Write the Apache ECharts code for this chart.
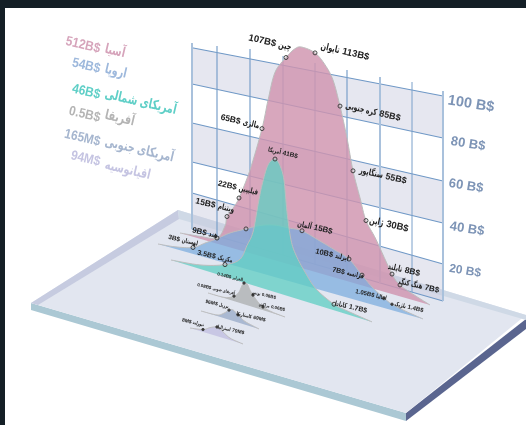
<!DOCTYPE html>
<html>
<head>
<meta charset="utf-8">
<style>html,body{margin:0;padding:0;background:#fff}#c{width:526px;height:425px}</style>
<script src="https://cdn.jsdelivr.net/npm/echarts@6/dist/echarts.min.js"></script>
</head>
<body>
<div id="c"></div>
<script>
// ---------- data ----------
const regionNames = ['آسیا','اروپا','آمریکای شمالی','آفریقا','آمریکای جنوبی','اقیانوسیه'];
const regionTotals = ['512B$','54B$','46B$','0.5B$','165M$','94M$'];
const wallTickLabels = ['20 B$','40 B$','60 B$','80 B$','100 B$'];

// ridge outlines: [position along the ridge, height in B$]
const asiaCurve = [[180,0],[200,1.2],[217,2.8],[225,10],[227,15],[233,20],[239,26],[250,41.6],[262,64],[268,79],[275,94],[286,103],[295,108.7],[302,110.5],[315,109.5],[325,105],[333,98.5],[340,86.5],[347,71.5],[353,56],[360,43.5],[366,33],[376,25],[392,10],[400,5.7],[410,3.5],[430,0]];
const europeCurve = [[158,0],[175,1],[193,3.2],[205,7.1],[217,11],[230,15.7],[246,20],[260,23.7],[275,26],[289,26.5],[302,27],[320,24.4],[335,22],[349,19.5],[362,13.3],[372,8.8],[384,5],[392,3],[405,1.5],[423,0]];
const northAmericaCurve = [[171,0],[200,2],[225,6],[240,11],[247,19],[253,26.6],[258,41],[262,51.5],[268,62.5],[275,66.5],[280,64],[284,57.4],[287,42],[291,28.5],[296,21.7],[305,14.6],[316,7.9],[334,3],[350,1.5],[372,0]];
const africaCurve = [[208,0],[225,0.4],[234,2.5],[239,5.3],[243,10],[247,10.6],[250,8],[253,6],[258,3.3],[263,1.6],[272,0.5],[285,0]];
const southAmericaCurve = [[201,0],[217,0.5],[224,2.5],[229,4.8],[233,5.5],[238,3.8],[245,1.6],[259,0]];
const oceaniaCurve = [[190,0],[203,1.2],[210,3.2],[217,4.6],[222,3.4],[230,1],[243,0]];

// labelled countries: [name, value text, position, height]
const asiaPoints = [['هند','9B$',217,2.8],['ویتنام','15B$',227,15],['فیلیپین','22B$',239,26],['مالزی','65B$',262,64],['چین','107B$',286,103],['تایوان','113B$',315,109.5],['کره جنوبی','85B$',340,86.5],['سنگاپور','55B$',353,56],['ژاپن','30B$',366,33],['تایلند','8B$',392,10],['هنگ کنگ','7B$',400,5.7]];
const europePoints = [['لهستان','3B$',193,3.2],['','',246,20],['آلمان','15B$',302,27],['ایرلند','10B$',349,19.5],['فرانسه','7B$',362,13.3],['ایتالیا','1.05B$',384,5],['بلژیک','1.4B$',392,3]];
const northAmericaPoints = [['مکزیک','3.5B$',225,6],['آمریکا','41B$',275,66.5],['کانادا','1.7B$',334,3]];
const africaPoints = [['الجزایر','0.14B$',244,10.6],['آفریقای جنوبی','0.08B$',234,2.5],['تونس','0.08B$',253,6],['مراکش','0.06B$',263,1.6]];
const southAmericaPoints = [['برزیل','96M$',229,4.8],['کاستاریکا','69M$',238,3.8]];
const oceaniaPoints = [['نیوزلند','8M$',203,1.2],['استرالیا','79M$',217,4.6]];

// ---------- layout & style ----------
const HEIGHT_PX = 2;
const ridgeStyle = [
  {curve:asiaCurve, points:asiaPoints, g:[233,0.288], fill:'rgba(207,148,174,0.82)',
   off:[[-12,-5,8],[-12,-11,8.5],[-1,-10,8],[-22,-7,8.5],[-16,-15,9.5],[30,-1,9.5],[33,6,9],[30,5,9],[23,4,9.5],[12,-4,8.5],[19,1,8]]},
  {curve:europeCurve, points:europePoints, g:[244,0.283], fill:'rgba(122,172,222,0.72)',
   off:[[-10,-7,6.5],[0,0,6.5],[13,-3,8],[-17,-4,7.5],[-14,-2,7],[-13,-3,6],[17,3,6]]},
  {curve:northAmericaCurve, points:northAmericaPoints, g:[260,0.308], fill:'rgba(96,206,194,0.76)',
   off:[[-10,-8,7],[8,-6,6.5],[17,3,7]]},
  {curve:africaCurve, points:africaPoints, g:[293,0.312], fill:'rgba(178,180,182,0.85)',
   off:[[-14,-6,4.5],[-18,-7,4.5],[11,0,4.5],[9,0,4.5]]},
  {curve:southAmericaCurve, points:southAmericaPoints, g:[311,0.31], fill:'rgba(160,176,204,0.85)',
   off:[[-12,-6,5],[13,2,5]]},
  {curve:oceaniaCurve, points:oceaniaPoints, g:[328,0.302], fill:'rgba(197,195,226,0.9)',
   off:[[-10,-7,5],[14,3,5]]}
];
const ROT = -13 * Math.PI / 180;
const FONT = '"Liberation Sans","DejaVu Sans",sans-serif';
const NAME_SCALE = 0.68;

const platform = [
  {pts:[[31,303],[406,413],[406,421],[31,310]], fill:'#abc8d4'},
  {pts:[[406,413],[526,319],[526,329],[406,421]], fill:'#5a658f'},
  {pts:[[31,303],[178,210],[526,315],[406,413]], fill:'#e2e6f0'},
  {pts:[[31,303],[178,210],[179,219],[38,305]], fill:'#c6cbe0'},
  {pts:[[178,210],[526,315],[526,320],[179,219]], fill:'#cfd9e6'}
];
// wall rows (0,20,40,60,80,100) on its left and right edge
const wallLeftY = [229,193,162,123,84,47.7];
const wallRightY = [301,264,223,181,138,96];
const wallX0 = 192, wallX1 = 443;
const wallColumns = [[192,43,2,'#a9c1dc'],[217,46,1.2,'#7ba0ca'],[250,49,1.2,'#7ba0ca'],[283,56,1,'#7ba0ca'],[315,63,1,'#7ba0ca'],[347,70,1.2,'#7ba0ca'],[380,77,2,'#a9c1dc'],[412,82,1,'#7ba0ca'],[443,91,2,'#a9c1dc']];
const wallLabelPos = [[465,271,12],[467,229,13],[466,186,13],[468,144,13],[471,104,14.5]];
const legendColors = ['#d6a4bb','#9db8dc','#5fcfc7','#b4b4b4','#a6b6cf','#c5c4e2'];
const legendPos = [[100,49,105,49],[100,69,105,69],[100,95,105,94],[100,118,105,115],[100,142,105,142],[100,162,105,165]];

// ---------- helpers ----------
const measureCtx = document.createElement('canvas').getContext('2d');
function textWidth(t, font){ measureCtx.font = font; return measureCtx.measureText(t).width; }
function smooth(pts){
  const out=[];
  for(let i=0;i<pts.length-1;i++){
    const p0=pts[Math.max(i-1,0)],p1=pts[i],p2=pts[i+1],p3=pts[Math.min(i+2,pts.length-1)];
    for(let s=0;s<8;s++){
      const t=s/8,t2=t*t,t3=t2*t;
      out.push([
        0.5*(2*p1[0]+(p2[0]-p0[0])*t+(2*p0[0]-5*p1[0]+4*p2[0]-p3[0])*t2+(3*p1[0]-p0[0]-3*p2[0]+p3[0])*t3),
        0.5*(2*p1[1]+(p2[1]-p0[1])*t+(2*p0[1]-5*p1[1]+4*p2[1]-p3[1])*t2+(3*p1[1]-p0[1]-3*p2[1]+p3[1])*t3)
      ]);
    }
  }
  out.push(pts[pts.length-1]);
  return out;
}
function ridgeProject(api, r, x, h){
  const x0 = r.curve[0][0];
  const y = r.g[0] + r.g[1]*(x-x0) - h*HEIGHT_PX;
  return api.coord([x,y]);
}
function one(render){
  return {type:'custom', coordinateSystem:'cartesian2d', data:[[0,0]], silent:true, clip:false, renderItem:render, animation:false};
}
// value and country name placed side by side along the slanted baseline, centred on (cx,cy)
function labelParts(name, value, cx, cy, size, nameFirst){
  const font='bold '+size+'px '+FONT;
  const vw=textWidth(value,font), nw=textWidth(name,font)*NAME_SCALE, gap=size*0.3;
  const total=vw+gap+nw;
  const cos=Math.cos(13*Math.PI/180), sin=Math.sin(13*Math.PI/180);
  const at=d=>[cx+(d-total/2)*cos, cy+(d-total/2)*sin];
  const nd=nameFirst?nw/2:vw+gap+nw/2, vd=nameFirst?nw+gap+vw/2:vw/2;
  const np=at(nd), vp=at(vd);
  return [
    {type:'text',x:np[0],y:np[1],rotation:ROT,scaleX:NAME_SCALE,style:{text:name,fill:'#222',font,align:'center',verticalAlign:'middle'}},
    {type:'text',x:vp[0],y:vp[1],rotation:ROT,style:{text:value,fill:'#222',font,align:'center',verticalAlign:'middle'}}
  ];
}

// ---------- series ----------
const series = [];
series.push(one((p,api)=>({type:'group',children:platform.map(f=>({
  type:'polygon',shape:{points:f.pts.map(q=>api.coord(q))},style:{fill:f.fill}}))})));

series.push(one((p,api)=>{
  const ch=[];
  const yAt=(row,x)=>wallLeftY[row]+(wallRightY[row]-wallLeftY[row])*(x-wallX0)/(wallX1-wallX0);
  for(let r=0;r<5;r+=2){
    ch.push({type:'polygon',shape:{points:[[wallX0,yAt(r,wallX0)],[wallX1,yAt(r,wallX1)],[wallX1,yAt(r+1,wallX1)],[wallX0,yAt(r+1,wallX0)]].map(q=>api.coord(q))},
      style:{fill:'rgba(198,201,220,0.44)'}});
  }
  for(let r=0;r<6;r++){
    ch.push({type:'line',shape:{x1:wallX0,y1:yAt(r,wallX0),x2:wallX1,y2:yAt(r,wallX1)},style:{stroke:'#6f98c6',lineWidth:1.1}});
  }
  wallColumns.forEach(c=>{
    ch.push({type:'line',shape:{x1:c[0],y1:c[1],x2:c[0],y2:yAt(0,c[0])},style:{stroke:c[3],lineWidth:c[2]}});
  });
  wallTickLabels.forEach((t,i)=>{
    const q=wallLabelPos[i];
    ch.push({type:'text',x:q[0],y:q[1],rotation:-9*Math.PI/180,style:{text:t,fill:'#7d94b6',font:'bold '+q[2]+'px '+FONT,align:'center',verticalAlign:'middle'}});
  });
  return {type:'group',children:ch};
}));

ridgeStyle.forEach(r=>{
  series.push(one((p,api)=>{
    const raw=r.curve.map(d=>ridgeProject(api,r,d[0],d[1]));
    const sm=smooth(raw);
    return {type:'group',children:[
      {type:'polygon',shape:{points:sm},style:{fill:r.fill}},
      {type:'polyline',shape:{points:sm},style:{stroke:'#bdbdbd',lineWidth:1,fill:'none'}}
    ]};
  }));
});
ridgeStyle.forEach(r=>{
  series.push(one((p,api)=>{
    const ch=[];
    r.points.forEach((d,i)=>{
      const c=ridgeProject(api,r,d[2],d[3]);
      const o=r.off[i];
      ch.push({type:'circle',shape:{cx:c[0],cy:c[1],r:o[2]>=6.5?2:1.2},style:{fill:o[2]>=6.5?'none':'#333',stroke:'#444',lineWidth:1}});
      if(d[0]) ch.push(...labelParts(d[0],d[1],c[0]+o[0],c[1]+o[1],o[2],o[0]>0));
    });
    return {type:'group',children:ch};
  }));
});
series.push(one(()=>({type:'group',children:regionNames.flatMap((n,i)=>{
  const q=legendPos[i];
  return [
    {type:'text',x:q[0],y:q[1],rotation:ROT,scaleX:0.88,style:{text:regionTotals[i],fill:legendColors[i],font:'bold 13.5px '+FONT,align:'right',verticalAlign:'middle'}},
    {type:'text',x:q[2],y:q[3],rotation:ROT,scaleX:0.72,style:{text:n,fill:legendColors[i],font:'bold 13.5px '+FONT,align:'left',verticalAlign:'middle'}}
  ];
})})));

const chart = echarts.init(document.getElementById('c'),null,{renderer:'canvas'});
chart.setOption({
  animation:false,
  backgroundColor:'#ffffff',
  grid:{left:0,right:0,top:0,bottom:0},
  xAxis:{type:'value',min:0,max:526,show:false},
  yAxis:{type:'value',min:0,max:425,inverse:true,show:false},
  graphic:[
    {type:'rect',shape:{x:0,y:0,width:526,height:8},style:{fill:'#141f26'},z:100},
    {type:'rect',shape:{x:0,y:0,width:5,height:425},style:{fill:'#141f26'},z:100}
  ],
  series
});
</script>
</body>
</html>
